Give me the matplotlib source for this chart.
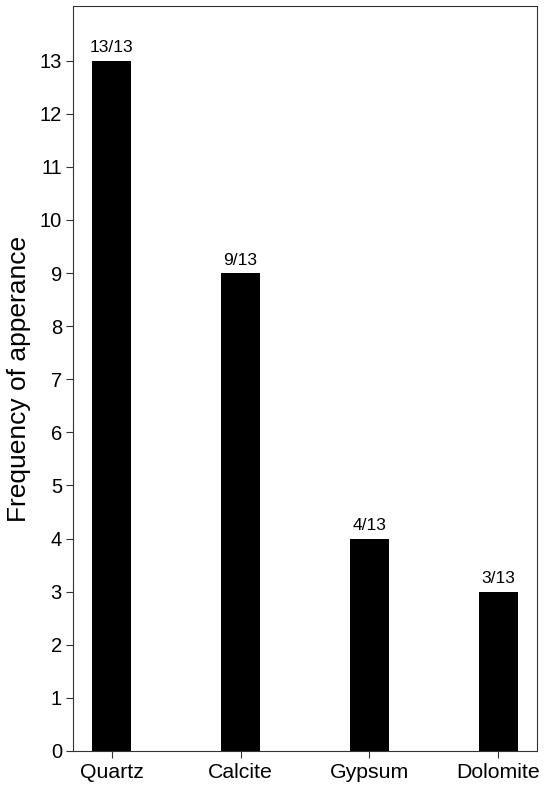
import matplotlib
matplotlib.use("Agg")
import matplotlib.pyplot as plt

categories = ["Quartz", "Calcite", "Gypsum", "Dolomite"]
counts = [13, 9, 4, 3]
labels = ["13/13", "9/13", "4/13", "3/13"]
yticks = list(range(0, 14))

plt.rcParams['font.family'] = ['Liberation Sans', 'DejaVu Sans']

fig = plt.figure(figsize=(5.5, 7.89), dpi=100)
ax = fig.add_axes([73/550, 1-751/789, (537-73)/550, (751-6)/789])

x = list(range(1, len(categories) + 1))
ax.bar(x, counts, width=0.3, color="black")
for xi, c, lab in zip(x, counts, labels):
    ax.annotate(lab, (xi, c), xytext=(0, 4), textcoords="offset points",
                ha="center", va="bottom", fontsize=12.5, color="black")

ax.set_xlim(0.7, 4.3)
ax.set_ylim(0, 14.03)
ax.set_xticks(x)
ax.set_xticklabels(categories)
ax.set_yticks(yticks)
ax.tick_params(axis="both", direction="out", length=5, width=0.8, color="#333333",
               labelcolor="black", pad=3)
ax.tick_params(axis="y", labelsize=14.5)
ax.tick_params(axis="x", labelsize=15.3, pad=3.5)
for s in ax.spines.values():
    s.set_color("#333333")
    s.set_linewidth(0.8)
ax.set_ylabel("Frequency of apperance", fontsize=19, labelpad=6)

fig.savefig("out.png", dpi=100)
